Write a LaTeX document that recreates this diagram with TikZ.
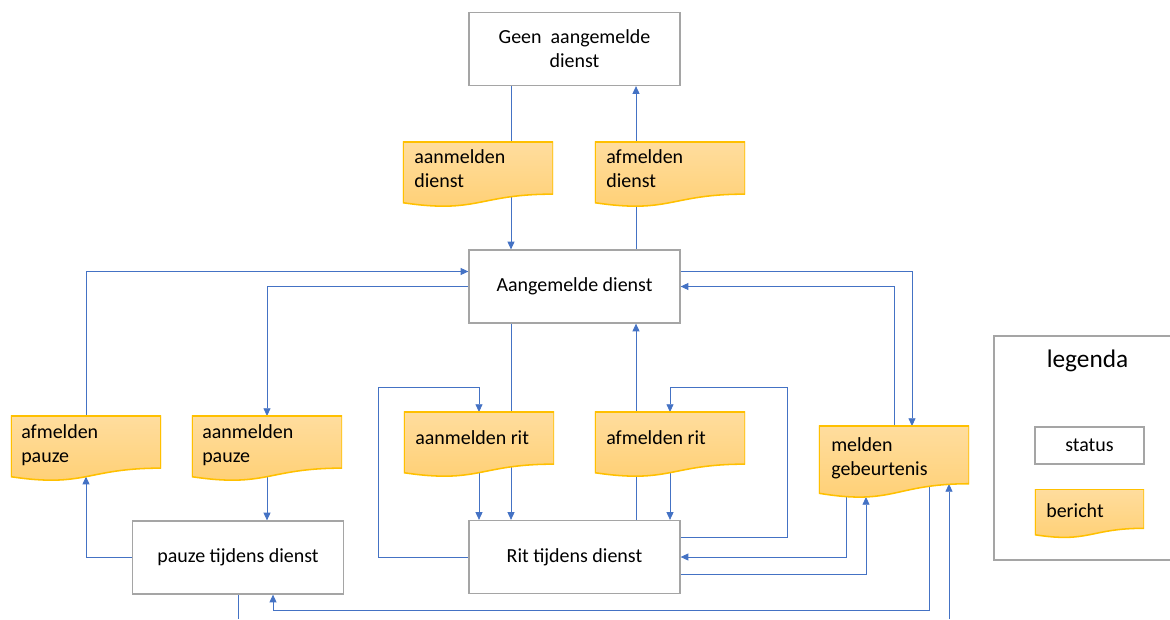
\documentclass[tikz,border=0pt]{standalone}
\usepackage{fontspec}
\setmainfont{Carlito}
\usetikzlibrary{arrows.meta,calc,backgrounds}

\definecolor{lijnblauw}{HTML}{4472C4}
\definecolor{randgrijs}{HTML}{A5A5A5}
\definecolor{berichtrand}{HTML}{FFC000}
\definecolor{berichtboven}{HTML}{FFDD9E}
\definecolor{berichtonder}{HTML}{FFCF72}

\tikzset{
    status/.style={draw=randgrijs, line width=0.9pt, minimum width=5.275cm,
        minimum height=1.825cm, align=center, inner sep=0pt},
    golfrand/.style={insert path={
        (path picture bounding box.north west) -- (path picture bounding box.north east)
        -- ($(path picture bounding box.north east)!.802!(path picture bounding box.south east)$)
        .. controls ($(path picture bounding box.north)!.802!(path picture bounding box.south)$)
        and ($(path picture bounding box.north)!1.107!(path picture bounding box.south)$)
        .. ($(path picture bounding box.north west)!.934!(path picture bounding box.south west)$)
        -- cycle}},
    bericht/.style={minimum width=3.75cm, minimum height=1.625cm, inner sep=0pt,
        outer sep=0pt,
        path picture={
            \shade[top color=berichtboven, bottom color=berichtonder, golfrand];
            \draw[berichtrand, line width=1.1pt, golfrand];
        }},
    berichttekst/.style={anchor=west, align=left, inner sep=0pt},
    pijl/.style={draw=lijnblauw, line width=0.6pt, -{Triangle[length=5.5pt,width=5pt]}},
    lijn/.style={draw=lijnblauw, line width=0.6pt}
}

\begin{document}
\begin{tikzpicture}[x=0.025cm, y=-0.025cm, font=\fontsize{14.2}{17}\selectfont]
    \useasboundingbox (0,0) rectangle (1170,619);

    % statussen
    \node[status] (geen) at (574.5,49) {Geen\ \ aangemelde\\dienst};
    \node[status] (aangemeld) at (574.5,286.5) {Aangemelde dienst};
    \node[status] (pauze) at (238,557.5) {pauze tijdens dienst};
    \node[status] (rit) at (574.5,557) {Rit tijdens dienst};

    % berichten
    \node[bericht] (aanD) at (478,174.5) {};
    \node[berichttekst] (aanDtekst) at ($(aanD.west)+(11,-5.9)$) {aanmelden\\dienst};
    \node[bericht] (afD) at (670,174.5) {};
    \node[berichttekst] (afDtekst) at ($(afD.west)+(11,-5.9)$) {afmelden\\dienst};
    \node[bericht] (afP) at (86,448.5) {};
    \node[berichttekst] (afPtekst) at ($(afP.west)+(10,-3)$) {afmelden\\pauze};
    \node[bericht] (aanP) at (267,448.5) {};
    \node[berichttekst] (aanPtekst) at ($(aanP.west)+(10,-3)$) {aanmelden\\pauze};
    \node[bericht] (aanR) at (479,444.5) {};
    \node[berichttekst] (aanRtekst) at ($(aanR.west)+(11,-6.9)$) {aanmelden rit};
    \node[bericht] (afR) at (670,444.5) {};
    \node[berichttekst] (afRtekst) at ($(afR.west)+(11,-6.9)$) {afmelden rit};
    \node[bericht, minimum height=1.8cm] (melden) at (894,462) {};
    \node[berichttekst] (meldenTekst) at ($(melden.west)+(12,-3.5)$) {melden\\gebeurtenis};

    % legenda
    \node[draw=randgrijs, line width=0.9pt, minimum width=4.45cm, minimum height=5.6cm] (legenda) at (1083,448) {};
    \node[font=\fontsize{18}{22}\selectfont] (legendaTitel) at (1087.5,361) {legenda};
    \node[status, minimum width=2.725cm, minimum height=0.925cm] (legStatus) at (1089.5,445.5) {status};
    \node[bericht, minimum width=2.725cm, minimum height=1.225cm] (legBericht) at (1089.5,513.5) {};
    \node[berichttekst] (legBerichtTekst) at ($(legBericht.west)+(11,-3)$) {bericht};

    \coordinate (uitPauze) at (238,619);
    \coordinate (inMelden) at (949,619);

    \begin{scope}[on background layer]
        \draw[pijl] ($(geen.south)+(-63.5,0)$) -- ($(aangemeld.north)+(-63.5,0)$);
        \draw[pijl] ($(aangemeld.north)+(61.5,0)$) -- ($(geen.south)+(61.5,0)$);

        \draw[pijl] (pauze.west) -| ($(afP.south)+(0,-4.4)$);
        \draw[pijl] (afP.north) |- ($(aangemeld.west)+(0,-15)$);
        \draw[pijl] (aangemeld.west) -| (aanP.north);
        \draw[pijl] ($(aanP.south)+(0,-4.4)$) -- (aanP.south |- pauze.north);

        \draw[pijl] ($(aangemeld.south)+(-63.5,0)$) -- ($(rit.north)+(-63.5,0)$);
        \draw[pijl] (rit.west) -| ($(aanR.north)+(-101,-25)$) -| (aanR.north);
        \draw[pijl] ($(aanR.south)+(0,-4.4)$) -- (aanR.south |- rit.north);
        \draw[pijl] ($(rit.north)+(61.5,0)$) -- ($(aangemeld.south)+(61.5,0)$);
        \draw[pijl] ($(rit.east)+(0,-20)$) -| ($(afR.north)+(117,-25)$) -| (afR.north);
        \draw[pijl] ($(afR.south)+(0,-4.4)$) -- (afR.south |- rit.north);

        \draw[pijl] ($(aangemeld.east)+(0,-15)$) -| ($(melden.north)+(18,0)$);
        \draw[pijl] (melden.north) |- (aangemeld.east);
        \draw[pijl] ($(melden.north)+(-48,71)$) |- (rit.east);
        \draw[pijl] ($(rit.east)+(0,17)$) -| ($(melden.north)+(-28,71)$);
        \draw[pijl] ($(melden.north)+(35,60)$) |- ($(pauze.south)+(35,16)$) -- ($(pauze.south)+(35,0)$);
        \draw[lijn] (pauze.south) -- (uitPauze);
        \draw[pijl] (inMelden) -- ($(melden.north)+(55,58)$);
    \end{scope}
\end{tikzpicture}
\end{document}
